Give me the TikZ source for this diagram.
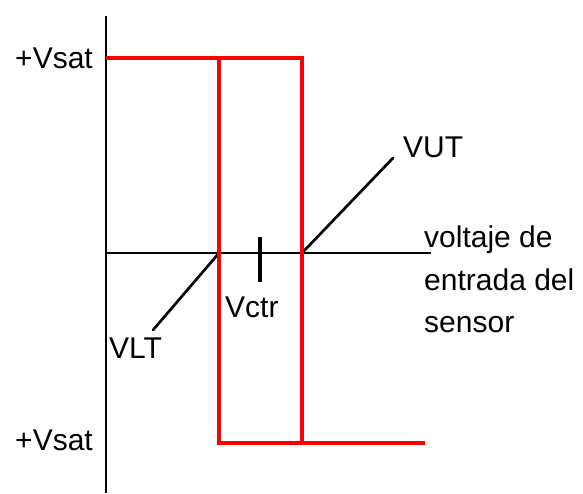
\documentclass[tikz,border=0pt]{standalone}
\usepackage{fontspec}
\setmainfont{Liberation Sans}
\begin{document}
\begin{tikzpicture}[x=0.03cm,y=-0.03cm,
    lbl/.style={inner sep=0pt,font=\fontsize{25.6}{36}\selectfont},
    axis/.style={line width=0.06cm},
    lead/.style={line width=0.08cm,line cap=round},
    loop/.style={red,line width=0.12cm}]
  \useasboundingbox (0,0) rectangle (583,493);
  % axes
  \draw[axis] (106,16) -- (106,493);
  \draw[axis] (106,253) -- (431,253);
  \draw[line width=0.1cm] (260,237) -- (260,282);
  % crossing points
  \coordinate (lt) at (219,253);
  \coordinate (ut) at (302,253);
  \coordinate (ltend) at (153,330);
  \coordinate (utend) at (393,158);
  \draw[lead] (lt) -- (ltend);
  \draw[lead] (ut) -- (utend);
  % hysteresis loop
  \draw[loop] (106,58) -- (302,58) -- (302,443) -- (425,443);
  \draw[loop] (219,58) -- (219,443) -- (302,443);
  % labels
  \node[lbl,anchor=east] (vsattop) at (93,58) {+Vsat};
  \node[lbl,anchor=east] (vsatbot) at (93,440) {+Vsat};
  \node[lbl,anchor=west] (vlt) at (109,348) {VLT};
  \node[lbl,anchor=west] (vctr) at (225,307) {Vctr};
  \node[lbl,anchor=west] (vut) at (403,147) {VUT};
  \node[lbl,anchor=north west,align=left] (xlabel) at (424,226) {voltaje de\\entrada del\\sensor};
\end{tikzpicture}
\end{document}
